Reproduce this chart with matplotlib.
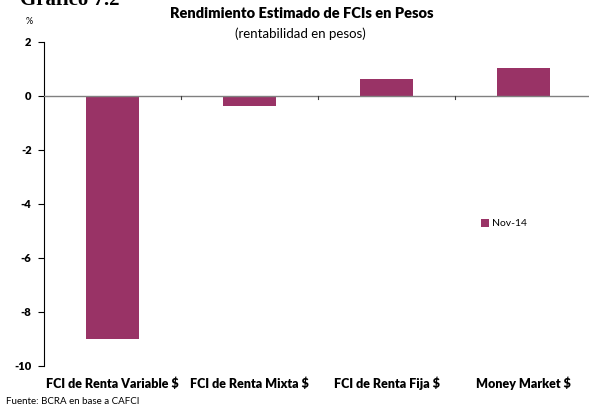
import matplotlib
matplotlib.use('Agg')
import matplotlib.pyplot as plt
from matplotlib.patches import Patch

categorias = ["FCI de Renta Variable $", "FCI de Renta Mixta $",
              "FCI de Renta Fija $", "Money Market $"]
nov14 = [-9.0, -0.37, 0.63, 1.04]
yticks = [2, 0, -2, -4, -6, -8, -10]

plt.rcParams['font.family'] = ['Lato', 'DejaVu Sans']

fig = plt.figure(figsize=(5.89, 4.07), dpi=100)
ax = fig.add_axes([44 / 589, 1 - 366 / 407, 548 / 589, 324 / 407])

x = list(range(len(categorias)))
ax.bar(x, nov14, width=0.39, color="#993366", zorder=2)

ax.set_xlim(-0.5, len(categorias) - 0.5)
ax.set_ylim(-10, 2)
ax.set_yticks(yticks)
ax.set_yticklabels([str(v) for v in yticks], fontsize=8, fontweight='heavy')
ax.tick_params(axis='y', direction='out', length=4, width=0.8, pad=5)

for s in ['top', 'right', 'bottom']:
    ax.spines[s].set_visible(False)
ax.spines['left'].set_linewidth(0.8)

# línea de cero con marcas entre categorías
ax.axhline(0, color='#808080', linewidth=1.0, zorder=3)
for b in [0.5, 1.5, 2.5]:
    ax.plot([b, b], [0, -0.12], color='#404040', linewidth=0.8, zorder=3, clip_on=False)

ax.set_xticks(x)
ax.set_xticklabels([])
ax.tick_params(axis='x', length=0)
for xi, lab in zip(x, categorias):
    ax.text(xi, -10.65, lab, ha='center', va='center', fontsize=9,
            fontweight='heavy')

handles = [Patch(facecolor="#993366", label="Nov-14")]
ax.legend(handles=handles, loc='center left', bbox_to_anchor=(0.78, 0.44),
          frameon=False, fontsize=7.5, handlelength=0.8, handleheight=0.8,
          handletextpad=0.3)

fig.text(0.513, 1 - 14 / 407, "Rendimiento Estimado de FCIs en Pesos", ha='center',
         va='center', fontsize=10.5, fontweight='heavy')
fig.text(0.51, 1 - 34 / 407, "(rentabilidad en pesos)", ha='center', va='center',
         fontsize=9.5)
fig.text(29 / 589, 1 - 22 / 407, "%", ha='center', va='center', fontsize=6.5)
fig.text(20 / 589, 1.0, "Gráfico 7.2", ha='left', va='center', fontsize=15,
         fontweight='bold', family='Liberation Serif')
fig.text(6 / 589, 1 - 402 / 407, "Fuente: BCRA en base a CAFCI", ha='left',
         va='center', fontsize=7)

fig.savefig("out.png", dpi=100)
